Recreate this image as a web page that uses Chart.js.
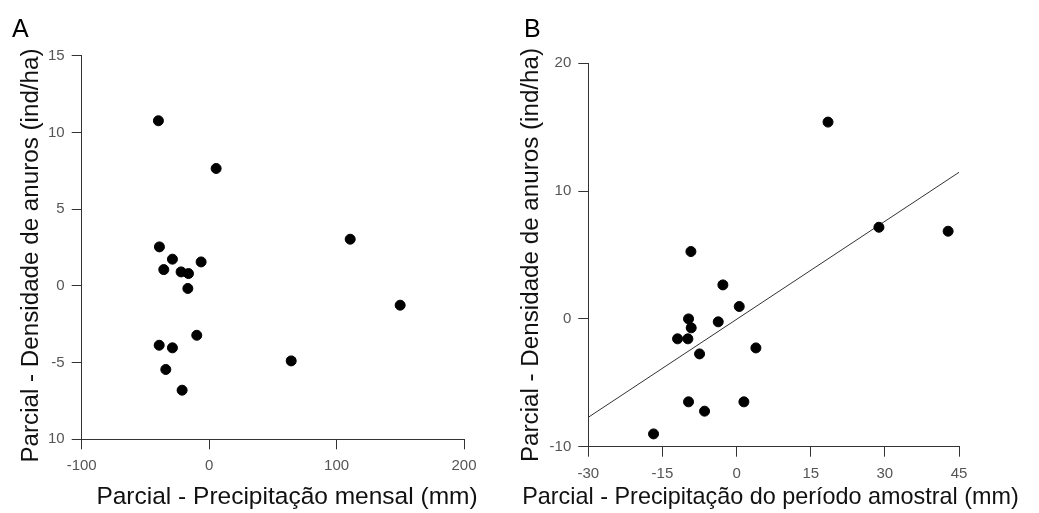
<!DOCTYPE html>
<html><head><meta charset="utf-8">
<script src="https://cdn.jsdelivr.net/npm/chart.js@4.4.0/dist/chart.umd.min.js"></script>
<style>
html,body{margin:0;padding:0;background:#fff;overflow:hidden}
#a{position:absolute;left:0;top:0}
#b{position:absolute;left:500px;top:0}
</style></head><body>
<canvas id="a" width="500" height="513"></canvas>
<canvas id="b" width="539" height="513"></canvas>
<script>
// Panel A data
const precipMensal = [-39.8, 5.5, -39.0, -28.8, -6.3, -35.6, -22.0, -16.2, -16.7, -9.7, -39.2, -28.8, -34.0, -21.2, 64.4, 110.7, 149.9];
const densidadeA   = [10.76, 7.65, 2.54, 1.74, 1.56, 1.06, 0.91, 0.80, -0.17, -3.22, -3.87, -4.04, -5.45, -6.80, -4.89, 3.04, -1.26];
// Panel B data
const precipPeriodo = [18.5, 28.8, 42.8, -9.24, -2.77, 0.54, -9.72, -9.18, -3.71, -11.94, -9.85, -7.49, 3.91, -9.72, 1.48, -6.48, -16.8];
const densidadeB    = [15.4, 7.17, 6.86, 5.27, 2.66, 0.97, 0.0, -0.70, -0.23, -1.56, -1.56, -2.74, -2.27, -6.49, -6.49, -7.22, -9.0];
// Regression line panel B
const fitX = [-30, 45];
const fitY = [-7.7, 11.47];

const xTicksA = [-100, 0, 100, 200];
const xTickLabelsA = ["-100", "0", "100", "200"];
const yTicksA = [-10, -5, 0, 5, 10, 15];
const yTickLabelsA = ["10", "-5", "0", "5", "10", "15"];
const xTicksB = [-30, -15, 0, 15, 30, 45];
const xTickLabelsB = ["-30", "-15", "0", "15", "30", "45"];
const yTicksB = [-10, 0, 10, 20];
const yTickLabelsB = ["-10", "0", "10", "20"];

const panelLabels = ["A", "B"];
const xTitleA = "Parcial - Precipitação mensal (mm)";
const xTitleB = "Parcial - Precipitação do período amostral (mm)";
const yTitle = "Parcial - Densidade de anuros (ind/ha)";

const FONT = "'Liberation Sans', Arial, sans-serif";

function pts(xs, ys) { return xs.map((x, i) => ({x: x, y: ys[i]})); }

// Draws panel letter and axis titles as text
function textPlugin(o) {
  return {
    id: 'texts' + o.label,
    afterDraw(chart) {
      const ctx = chart.ctx;
      ctx.save();
      ctx.fillStyle = '#000';
      ctx.textBaseline = 'alphabetic';
      ctx.font = '25px ' + FONT;
      ctx.textAlign = 'left';
      ctx.fillText(o.label, o.labelX, o.labelY);
      ctx.font = o.titleSize + 'px ' + FONT;
      ctx.fillStyle = '#111';
      ctx.textAlign = 'center';
      ctx.fillText(o.xTitle, o.xTitleX, o.xTitleY);
      ctx.font = '24.2px ' + FONT;
      ctx.translate(o.yTitleX, o.yTitleY);
      ctx.rotate(-Math.PI / 2);
      ctx.fillText(o.yTitle, 0, 0);
      ctx.restore();
    }
  };
}

function makeScales(cfg) {
  const common = {
    type: 'linear',
    border: {display: true, color: '#333', width: 1},
    grid: {display: true, drawOnChartArea: false, drawTicks: true, tickLength: 10, color: '#333', lineWidth: 1},
  };
  return {
    x: Object.assign({}, common, {
      min: cfg.xTicks[0], max: cfg.xTicks[cfg.xTicks.length - 1],
      afterBuildTicks(s) { s.ticks = cfg.xTicks.map(v => ({value: v})); },
      afterFit(s) { s.height = cfg.xHeight; s.paddingLeft = 0; s.paddingRight = 0; },
      ticks: {
        autoSkip: false, maxRotation: 0, padding: 8, color: '#555',
        font: {family: FONT, size: 15},
        callback: (v, i) => cfg.xLabels[i]
      },
      title: {display: false}
    }),
    y: Object.assign({}, common, {
      min: cfg.yTicks[0], max: cfg.yTicks[cfg.yTicks.length - 1],
      afterBuildTicks(s) { s.ticks = cfg.yTicks.map(v => ({value: v})); },
      afterFit(s) { s.width = cfg.yWidth; s.paddingTop = 0; s.paddingBottom = 0; },
      ticks: {
        autoSkip: false, padding: 7, color: '#555',
        font: {family: FONT, size: 15},
        callback: (v, i) => cfg.yLabels[i]
      },
      title: {display: false}
    })
  };
}

new Chart(document.getElementById('a'), {
  type: 'scatter',
  data: {
    datasets: [{
      data: pts(precipMensal, densidadeA),
      backgroundColor: '#000', borderColor: '#000', pointRadius: 5, pointHoverRadius: 5
    }]
  },
  options: {
    responsive: false, animation: false,
    layout: {padding: {left: 0, top: 55.7, right: 36, bottom: 0}},
    plugins: {legend: {display: false}, tooltip: {enabled: false}},
    scales: makeScales({
      xTicks: xTicksA, xLabels: xTickLabelsA, yTicks: yTicksA, yLabels: yTickLabelsA,
      xHeight: 73.7, yWidth: 81.7
    })
  },
  plugins: [textPlugin({
    label: panelLabels[0], labelX: 12, labelY: 37, titleSize: 24.5,
    xTitle: xTitleA, xTitleX: 287, xTitleY: 504,
    yTitle: yTitle, yTitleX: 37.5, yTitleY: 255.5
  })]
});

new Chart(document.getElementById('b'), {
  type: 'scatter',
  data: {
    datasets: [{
      data: pts(precipPeriodo, densidadeB),
      backgroundColor: '#000', borderColor: '#000', pointRadius: 5, pointHoverRadius: 5
    }, {
      type: 'line',
      data: pts(fitX, fitY),
      borderColor: '#333', borderWidth: 1, pointRadius: 0, fill: false, tension: 0
    }]
  },
  options: {
    responsive: false, animation: false,
    layout: {padding: {left: 0, top: 63.3, right: 80, bottom: 0}},
    plugins: {legend: {display: false}, tooltip: {enabled: false}},
    scales: makeScales({
      xTicks: xTicksB, xLabels: xTickLabelsB, yTicks: yTicksB, yLabels: yTickLabelsB,
      xHeight: 66.3, yWidth: 88.3
    })
  },
  plugins: [textPlugin({
    label: panelLabels[1], labelX: 24, labelY: 37, titleSize: 23.4,
    xTitle: xTitleB, xTitleX: 270.5, xTitleY: 503.5,
    yTitle: yTitle, yTitleX: 38.3, yTitleY: 255
  })]
});
</script>
</body></html>
